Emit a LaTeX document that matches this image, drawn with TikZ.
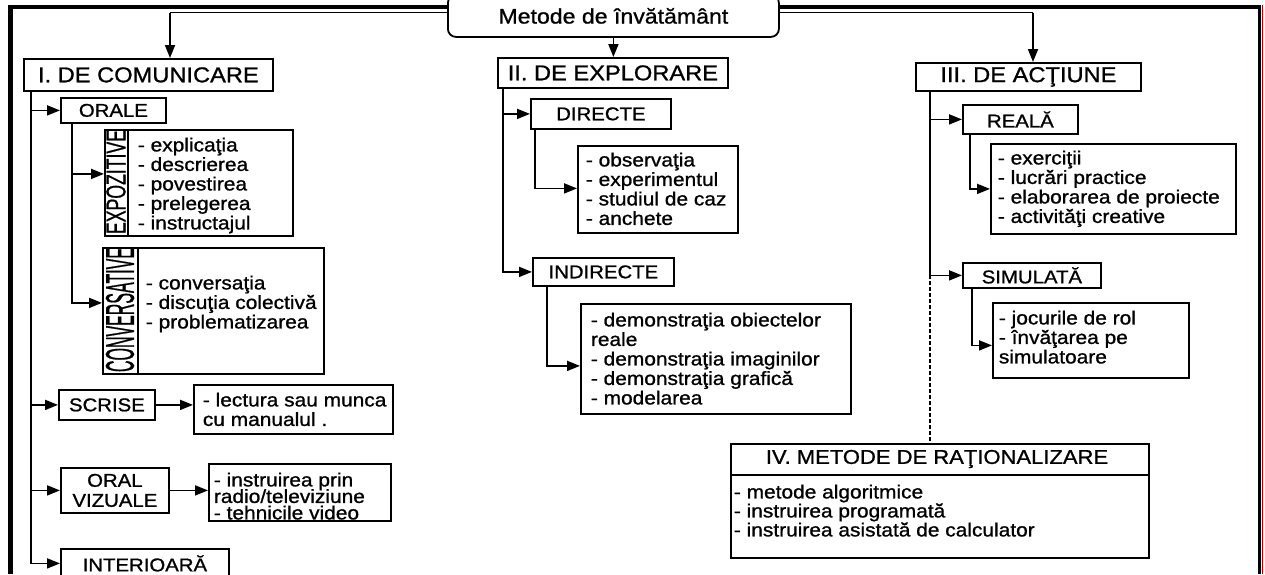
\documentclass[tikz,border=0pt]{standalone}
\usepackage{fontspec}
\usetikzlibrary{arrows.meta}
\newfontfamily\ar{Liberation Sans}[FakeStretch=1.1,FakeBold=1.0]
\newcommand{\fl}{\rule{0pt}{14pt}}
\setlength{\lineskiplimit}{-20pt}
\begin{document}
\setlength{\lineskiplimit}{-20pt}
\begin{tikzpicture}[x=1pt,y=-1pt, line width=1.8pt,
  box/.style={draw, inner sep=0pt, anchor=north west, fill=white},
  arr/.style={-{Triangle[length=13pt,width=10pt]}},
  dsh/.style={line width=1.6pt, dash pattern=on 4pt off 2pt},
  hd/.style={font=\ar\fontsize{21.5}{22}\selectfont},
  sub/.style={font=\ar\fontsize{18.5}{20}\selectfont},
  lst/.style={font=\ar\fontsize{19}{19.5}\selectfont, align=left, anchor=north west, inner sep=0pt}]
\useasboundingbox (0,0) rectangle (1265,574);
% frame
\draw[line width=5pt] (10.5,5) -- (10.5,574);
\draw[line width=3.5pt] (8,7) -- (1261,7);
\draw[line width=3pt] (1259,5) -- (1259,574);
\draw[red!70!black, line width=1pt] (1262.5,5) -- (1262.5,574);
% bus
\coordinate (busL) at (170,12.5);
\coordinate (busR) at (1033,12.5);
\draw (busL) -- (busR);
\node[box, rounded corners=8pt, minimum width=331pt, minimum height=42pt, font=\ar\fontsize{21}{22}\selectfont] (root) at (447,-6) {Metode de învătământ};
% level 1
\node[box, hd, minimum width=249pt, minimum height=32pt] (c1) at (23,58) {I. DE COMUNICARE};
\node[box, hd, minimum width=230pt, minimum height=30pt] (c2) at (497,57) {II. DE EXPLORARE};
\node[box, hd, minimum width=225pt, minimum height=28pt] (c3) at (915,62) {III. DE ACŢIUNE};
\draw[arr] (busL) -- (busL |- c1.north);
\draw[arr] (root.south) -- (root.south |- c2.north);
\draw[arr] (busR) -- (busR |- c3.north);
% ---- column I
\node[box, sub, minimum width=105pt, minimum height=25pt] (orale) at (60,97) {ORALE};
\node[box, minimum width=188pt, minimum height=106pt] (expo) at (104,129) {};
\draw ([xshift=24pt]expo.north west) -- ([xshift=24pt]expo.south west);
\node[rotate=90, inner sep=0pt, font=\ar] (expol) at (116,182) {\resizebox{104pt}{19pt}{EXPOZITIVE}};
\node[lst] (expot) at (137,136.5) {\fl- explicaţia\\- descrierea\\- povestirea\\- prelegerea\\- instructajul};
\node[box, minimum width=221pt, minimum height=126pt] (conv) at (102,247) {};
\draw ([xshift=36pt]conv.north west) -- ([xshift=36pt]conv.south west);
\node[rotate=90, inner sep=0pt, font=\ar] (convl) at (120,310) {\resizebox{124pt}{28pt}{CONVERSATIVE}};
\node[lst] (convt) at (145,274.5) {\fl- conversaţia\\- discuţia colectivă\\- problematizarea};
\node[box, sub, minimum width=96pt, minimum height=30pt] (scrise) at (58,389) {SCRISE};
\node[box, minimum width=199pt, minimum height=49pt] (scrt) at (193,384) {};
\node[lst] (scrtt) at (202,391.5) {\fl- lectura sau munca\\cu manualul .};
\node[box, sub, minimum width=108pt, minimum height=45pt, align=center, font=\ar\fontsize{18.5}{20}\selectfont] (oralviz) at (60,467) {ORAL\\VIZUALE};
\node[box, minimum width=182pt, minimum height=57pt] (ovt) at (208,463) {};
\node[lst, font=\ar\fontsize{19}{16.5}\selectfont] (ovtt) at (213,471.5) {\fl- instruirea prin\\radio/televiziune\\- tehnicile video};
\node[box, sub, minimum width=168pt, minimum height=29pt] (inter) at (60,548) {INTERIOARĂ};
\draw[arr] ([xshift=8pt]c1.south west) |- (orale.west);
\draw[arr] ([xshift=8pt]c1.south west) |- (scrise.west);
\draw[arr] ([xshift=8pt]c1.south west) |- (oralviz.west);
\draw[arr] ([xshift=8pt]c1.south west) |- (inter.west);
\draw[arr] ([xshift=12pt]orale.south west) |- ([yshift=9pt]expo.west);
\draw[arr] ([xshift=12pt]orale.south west) |- ([yshift=8pt]conv.west);
\draw[arr] (scrise.east) -- (scrise.east -| scrt.west);
\draw[arr] (oralviz.east) -- (oralviz.east -| ovt.west);
% ---- column II
\node[box, sub, minimum width=140pt, minimum height=30pt] (dir) at (530,98) {DIRECTE};
\node[box, minimum width=160pt, minimum height=87pt] (dirt) at (577,145) {};
\node[lst] (dirtt) at (585,151.5) {\fl- observaţia\\- experimentul\\- studiul de caz\\- anchete};
\node[box, sub, minimum width=141pt, minimum height=28pt] (indir) at (532,257) {INDIRECTE};
\node[box, minimum width=270pt, minimum height=110pt] (indt) at (580,303) {};
\node[lst] (indtt) at (590,311.5) {\fl- demonstraţia obiectelor\\reale\\- demonstraţia imaginilor\\- demonstraţia grafică\\- modelarea};
\draw[arr] ([xshift=6pt]c2.south west) |- (dir.west);
\draw[arr] ([xshift=6pt]c2.south west) |- (indir.west);
\draw[arr] ([xshift=5pt]dir.south west) |- ([yshift=1pt]dirt.west);
\draw[arr] ([xshift=15pt]indir.south west) |- ([yshift=-7pt]indt.west);
% ---- column III
\node[box, sub, minimum width=115pt, minimum height=29pt] (real) at (962,104) {REALĂ};
\node[box, minimum width=245pt, minimum height=90pt] (realt) at (990,143) {};
\node[lst] (realtt) at (997,149.5) {\fl- exerciţii\\- lucrări practice\\- elaborarea de proiecte\\- activităţi creative};
\node[box, sub, minimum width=138pt, minimum height=25pt] (sim) at (962,262) {SIMULATĂ};
\node[box, minimum width=196pt, minimum height=75pt] (simt) at (992,302) {};
\node[lst] (simtt) at (998,309.5) {\fl- jocurile de rol\\- învăţarea pe\\simulatoare};
\coordinate (t3) at ([xshift=15pt]c3.south west);
\draw[arr] (t3) |- (real.west);
\draw[arr] (t3) |- (sim.west);
\draw[arr] ([xshift=8pt]real.south west) |- (realt.west);
\draw[arr] ([xshift=10pt]sim.south west) |- ([yshift=-5pt]simt.west);
% ---- IV
\node[box, minimum width=418pt, minimum height=114pt] (iv) at (730,443) {};
\draw ([yshift=-32pt]iv.north west) -- ([yshift=-32pt]iv.north east);
\node[inner sep=0pt, font=\ar\fontsize{20}{21}\selectfont] (ivh) at (937,459) {IV. METODE DE RAŢIONALIZARE};
\node[lst, font=\ar\fontsize{19}{19}\selectfont] (ivt) at (733,483.5) {\fl- metode algoritmice\\- instruirea programată\\- instruirea asistată de calculator};
\draw[dsh] (t3 |- sim.west) -- (t3 |- iv.north);
\end{tikzpicture}
\end{document}
